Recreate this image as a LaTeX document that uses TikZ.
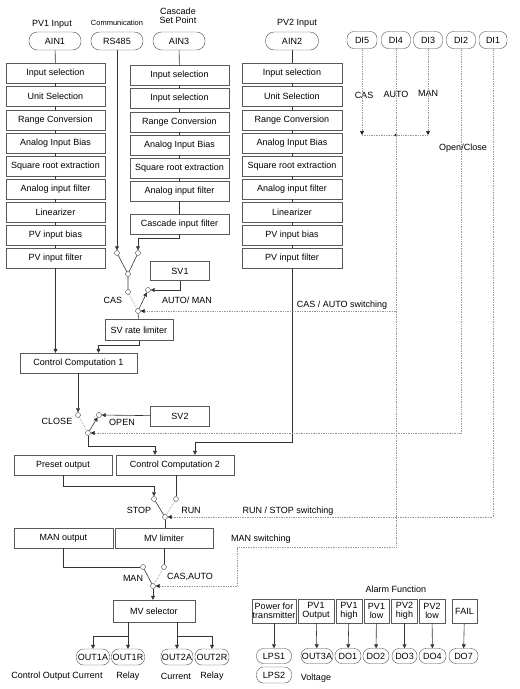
\documentclass[tikz,border=0pt]{standalone}
\usepackage{fontspec}
\setmainfont{Liberation Sans}
\usetikzlibrary{arrows.meta}

\begin{document}
\begin{tikzpicture}[x=1pt,y=-1pt,
    every node/.style={font=\fontsize{9}{9.5}\selectfont},
    blk/.style={draw=black!65,fill=white,minimum width=99pt,minimum height=20pt,inner sep=1pt},
    pill/.style={draw=black!70,fill=white,rounded corners=8.5pt,minimum width=52pt,minimum height=18pt,inner sep=1pt},
    opill/.style={draw=black!70,fill=white,rounded corners=7pt,minimum height=16pt,inner sep=1pt},
    abox/.style={draw=black!65,fill=white,minimum height=24pt,inner sep=0.5pt,align=center},
    sw/.style={circle,draw=black!75,fill=white,inner sep=0pt,minimum size=5pt},
    wire/.style={black!80,line width=0.6pt},
    sig/.style={black!40,densely dotted,line width=0.7pt},
    arr/.style={-{Triangle[length=4pt,width=4pt]}},
    sarr/.style={-{Triangle[length=4pt,width=4pt,color=black!85]}}]
    \useasboundingbox (0,0) rectangle (520,689);

    % Inputs
    \node at (52,24) {PV1 Input};
    \node[pill] (ain1) at (55,41) {AIN1};
    \node[font=\fontsize{7.5}{8}\selectfont] at (117,23) {Communication};
    \node[pill] (rs485) at (117,41) {RS485};
    \node[align=center] at (178,16) {Cascade\\Set Point};
    \node[pill] (ain3) at (179,41) {AIN3};
    \node at (297,23) {PV2 Input};
    \node[pill,minimum width=53pt] (ain2) at (292,41) {AIN2};

    % Digital inputs
    \node[opill,minimum width=30pt,minimum height=17pt] (di5) at (362,40) {DI5};
    \node[opill,minimum width=29pt,minimum height=17pt] (di4) at (396,40) {DI4};
    \node[opill,minimum width=29pt,minimum height=17pt] (di3) at (428,40) {DI3};
    \node[opill,minimum width=29pt,minimum height=17pt] (di2) at (461,40) {DI2};
    \node[opill,minimum width=28pt,minimum height=17pt] (di1) at (493,40) {DI1};

    % PV1 processing
    \node[blk] (a1) at (55.5,73) {Input selection};
    \node[blk] (a2) at (55.5,96.5) {Unit Selection};
    \node[blk] (a3) at (55.5,120) {Range Conversion};
    \node[blk] (a4) at (55.5,143) {Analog Input Bias};
    \node[blk] (a5) at (55.5,166) {Square root extraction};
    \node[blk] (a6) at (55.5,189) {Analog input filter};
    \node[blk] (a7) at (55.5,212) {Linearizer};
    \node[blk] (a8) at (55.5,235) {PV input bias};
    \node[blk] (a9) at (55.5,258) {PV input filter};
    \draw[wire] (ain1) -- (a1) -- (a2) -- (a3) -- (a4) -- (a5) -- (a6) -- (a7) -- (a8) -- (a9);

    % Cascade set point processing
    \node[blk] (c1) at (179.5,75.5) {Input selection};
    \node[blk] (c2) at (179.5,98) {Input selection};
    \node[blk] (c3) at (179.5,122) {Range Conversion};
    \node[blk] (c4) at (179.5,145) {Analog Input Bias};
    \node[blk] (c5) at (179.5,168) {Square root extraction};
    \node[blk] (c6) at (179.5,191) {Analog input filter};
    \node[blk] (c7) at (179.5,224) {Cascade input filter};
    \draw[wire] (ain3) -- (c1) -- (c2) -- (c3) -- (c4) -- (c5) -- (c6) -- (c7);

    % PV2 processing
    \node[blk,minimum width=100pt] (b1) at (292,73) {Input selection};
    \node[blk,minimum width=100pt] (b2) at (292,96.5) {Unit Selection};
    \node[blk,minimum width=100pt] (b3) at (292,120) {Range Conversion};
    \node[blk,minimum width=100pt] (b4) at (292,143) {Analog Input Bias};
    \node[blk,minimum width=100pt] (b5) at (292,166) {Square root extraction};
    \node[blk,minimum width=100pt] (b6) at (292,189) {Analog input filter};
    \node[blk,minimum width=100pt] (b7) at (292,212) {Linearizer};
    \node[blk,minimum width=100pt] (b8) at (292,235) {PV input bias};
    \node[blk,minimum width=100pt] (b9) at (292,258) {PV input filter};
    \draw[wire] (ain2) -- (b1) -- (b2) -- (b3) -- (b4) -- (b5) -- (b6) -- (b7) -- (b8) -- (b9);

    % Set point switches
    \node[sw] (s1a) at (117,253) {};
    \node[sw] (s1b) at (138,253) {};
    \node[sw] (s1c) at (128,274) {};
    \node[sw] (s2a) at (128,292) {};
    \node[sw] (s2b) at (148,290) {};
    \node[sw] (s2c) at (138,311) {};
    \node[blk,minimum width=59pt,minimum height=19pt] (sv1) at (180,271) {SV1};
    \node[blk,minimum width=68pt,minimum height=21pt] (svr) at (139,330) {SV rate limiter};
    \node at (113,300) {CAS};
    \node at (187,300) {AUTO/ MAN};
    \draw[wire,arr] (rs485) -- (s1a);
    \draw[wire,arr] (c7.south) -- ++(0,4) -| (s1b);
    \draw[wire] (s1a) -- (s1c) (s1b) -- (s1c) (s1c) -- (s2a);
    \draw[wire,arr] (sv1.south) |- (s2b);
    \draw[wire,arr] (s2c) -- (s2b);
    \draw[sig] (s2a) -- (s2c);
    \draw[wire] (s2c) -- (svr);

    % Control computation 1
    \node[blk,minimum width=117pt] (cc1) at (78.5,363) {Control Computation 1};
    \draw[wire,arr] (a9.south) -- (a9.south |- cc1.north);
    \draw[wire,arr] (svr.south) -- ++(0,5) -| ([xshift=20pt]cc1.north);

    % Open / close switch
    \node[sw] (s3a) at (78,415) {};
    \node[sw] (s3b) at (99,415) {};
    \node[sw] (s3c) at (88,433) {};
    \node[blk,minimum width=59pt] (sv2) at (180,416) {SV2};
    \node at (57,421) {CLOSE};
    \node at (122,422) {OPEN};
    \draw[wire,arr] (cc1.south -| s3a) -- (s3a);
    \draw[wire,arr] (sv2) -- (s3b);
    \draw[wire,arr] (s3c) -- (s3b);
    \draw[sig] (s3a) -- (s3c);

    % Control computation 2
    \node[blk,minimum width=98pt] (pre) at (63,465) {Preset output};
    \node[blk,minimum width=118pt] (cc2) at (175,465) {Control Computation 2};
    \draw[wire,arr] (s3c) -- ++(0,13) -| ([xshift=-20pt]cc2.north);
    \draw[wire,arr] (b9.south) -- (292,442) -| ([xshift=20pt]cc2.north);

    % Run / stop switch
    \node[sw] (s4a) at (154,499) {};
    \node[sw] (s4b) at (176,499) {};
    \node[sw] (s4c) at (165,517) {};
    \node at (139,510) {STOP};
    \node at (191,510) {RUN};
    \draw[wire,arr] (pre.south) -- ++(0,11) -| (s4a);
    \draw[wire] (cc2.south -| s4b) -- (s4b);
    \draw[wire] (s4a) -- (s4c);
    \draw[sig] (s4b) -- (s4c);

    % MV
    \node[blk,minimum width=99pt] (man) at (63.5,538) {MAN output};
    \node[blk,minimum width=98pt] (mvl) at (164,538) {MV limiter};
    \draw[wire] (s4c) -- (s4c |- mvl.north);
    \node[sw] (s5a) at (143,567) {};
    \node[sw] (s5b) at (164,567) {};
    \node[sw] (s5c) at (153,586) {};
    \node at (133,578) {MAN};
    \node at (190,577) {CAS,AUTO};
    \draw[wire] (man.south) |- (s5a);
    \draw[wire] (mvl.south) -- (s5b);
    \draw[wire] (s5a) -- (s5c);
    \draw[sig] (s5b) -- (s5c);
    \node[blk,minimum width=82pt,minimum height=22pt] (mvs) at (154,611) {MV selector};
    \draw[wire,arr] (s5c) -- (s5c |- mvs.north);

    % Outputs
    \node[opill,minimum width=33pt] (o1a) at (93,657) {OUT1A};
    \node[opill,minimum width=33pt] (o1r) at (128,657) {OUT1R};
    \node[opill,minimum width=32pt] (o2a) at (177,657) {OUT2A};
    \node[opill,minimum width=34pt] (o2r) at (212,657) {OUT2R};
    \draw[wire,arr] (mvs.south -| o1r) -- (o1r);
    \draw[wire,arr] (128,636) -| (o1a);
    \draw[wire,arr] (mvs.south -| o2a) -- (o2a);
    \draw[wire,arr] (177,636) -| (o2r);
    \node at (57,676) {Control Output Current};
    \node at (128,676) {Relay};
    \node at (176,676) {Current};
    \node at (212,676) {Relay};

    % Digital input signals
    \coordinate (jl) at (362,135);
    \coordinate (jm) at (396,135);
    \coordinate (jr) at (428,135);
    \node at (364,95) {CAS};
    \node at (396,94) {AUTO};
    \node at (428,93) {MAN};
    \draw[sig,sarr] (di5) -- (jl);
    \draw[sig,sarr] (di3) -- (jr);
    \draw[sig] (jl) -- (jr);
    \fill[black!85] (jm) circle (1.7pt);
    \draw[sig] (di4) -- (396,547) -- (237,547) -- (237,586);
    \draw[sig,sarr] (237,586) -- (s5c);
    \draw[sig,sarr] (396,311) -- (s2c);
    \draw[sig,sarr] (di2) |- (s3c);
    \draw[sig,sarr] (di1) |- (s4c);
    \node at (342,305) {CAS / AUTO switching};
    \node at (463,148) {Open/Close};
    \node at (288,511) {RUN / STOP switching};
    \node at (261,539) {MAN switching};

    % Transmitter power and alarms
    \node at (396,589) {Alarm Function};
    \node[abox,minimum width=44pt] (pwr) at (274,611) {Power for\\transmitter};
    \node[abox,minimum width=36pt] (pvo) at (316,611) {PV1\\Output};
    \node[abox,minimum width=26pt] (al1) at (349,611) {PV1\\high};
    \node[abox,minimum width=25pt] (al2) at (376.5,611) {PV1\\low};
    \node[abox,minimum width=26pt] (al3) at (404.5,611) {PV2\\high};
    \node[abox,minimum width=26pt] (al4) at (432,611) {PV2\\low};
    \node[abox,minimum width=25pt] (fail) at (464.5,611) {FAIL};
    \node[opill,minimum width=35pt,minimum height=15pt] (lps1) at (274,656) {LPS1};
    \node[opill,minimum width=35pt,minimum height=16pt] (lps2) at (274,675) {LPS2};
    \node[opill,minimum width=32pt,minimum height=15pt] (o3a) at (317,656) {OUT3A};
    \node[opill,minimum width=26pt,minimum height=15pt] (do1) at (348,656) {DO1};
    \node[opill,minimum width=26pt,minimum height=15pt] (do2) at (376,656) {DO2};
    \node[opill,minimum width=25pt,minimum height=15pt] (do3) at (404.5,656) {DO3};
    \node[opill,minimum width=27pt,minimum height=15pt] (do4) at (432.5,656) {DO4};
    \node[opill,minimum width=29pt,minimum height=15pt] (do7) at (463.5,656) {DO7};
    \node at (316,678) {Voltage};
    \draw[wire,arr] (pwr) -- (lps1);
    \draw[wire,arr] (pvo) -- (o3a);
    \draw[wire,arr] (al1) -- (do1);
    \draw[wire,arr] (al2) -- (do2);
    \draw[wire,arr] (al3) -- (do3);
    \draw[wire,arr] (al4) -- (do4);
    \draw[wire,arr] (fail) -- (do7);
\end{tikzpicture}
\end{document}
